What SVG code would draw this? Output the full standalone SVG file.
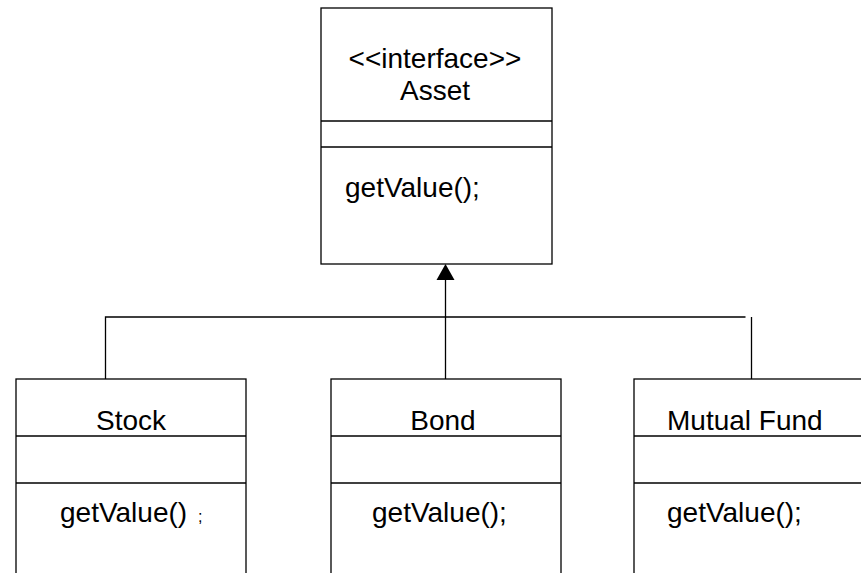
<svg xmlns="http://www.w3.org/2000/svg" width="861" height="573" viewBox="0 0 861 573">
<style>
.box{fill:#fff;stroke:#000;stroke-width:1.3}
.ln{fill:none;stroke:#000;stroke-width:1.3}
.head{fill:#000}
text{font-family:"Liberation Sans",Arial,sans-serif;font-size:28px;fill:#000}
</style>
<rect width="861" height="573" fill="#fff"/>
<g id="connectors">
<path class="ln" d="M105.5 379 V317 H745.5"/>
<path class="ln" d="M445.5 379 V280"/>
<path class="ln" d="M751.5 379 V317"/>
<polygon class="head" points="445.5,264 436.5,280 454.5,280"/>
</g>
<g id="asset">
<rect class="box" x="321" y="8" width="231" height="256"/>
<line class="ln" x1="321" y1="121" x2="552" y2="121"/>
<line class="ln" x1="321" y1="147" x2="552" y2="147"/>
<text x="435" y="68" text-anchor="middle">&lt;&lt;interface&gt;&gt;</text>
<text x="435" y="100" text-anchor="middle">Asset</text>
<text x="345" y="197">getValue();</text>
</g>
<g id="stock">
<rect class="box" x="16" y="379" width="230" height="210"/>
<line class="ln" x1="16" y1="436" x2="246" y2="436"/>
<line class="ln" x1="16" y1="483" x2="246" y2="483"/>
<text x="131" y="430" text-anchor="middle">Stock</text>
<text x="60" y="522">getValue()<tspan x="198" font-size="16">;</tspan></text>
</g>
<g id="bond">
<rect class="box" x="331" y="379" width="230" height="210"/>
<line class="ln" x1="331" y1="436" x2="561" y2="436"/>
<line class="ln" x1="331" y1="483" x2="561" y2="483"/>
<text x="443" y="430" text-anchor="middle">Bond</text>
<text x="372" y="522">getValue();</text>
</g>
<g id="mutualfund">
<rect class="box" x="634" y="379" width="240" height="210"/>
<line class="ln" x1="634" y1="436" x2="874" y2="436"/>
<line class="ln" x1="634" y1="483" x2="874" y2="483"/>
<text x="667" y="430">Mutual Fund</text>
<text x="667" y="522">getValue();</text>
</g>
</svg>
